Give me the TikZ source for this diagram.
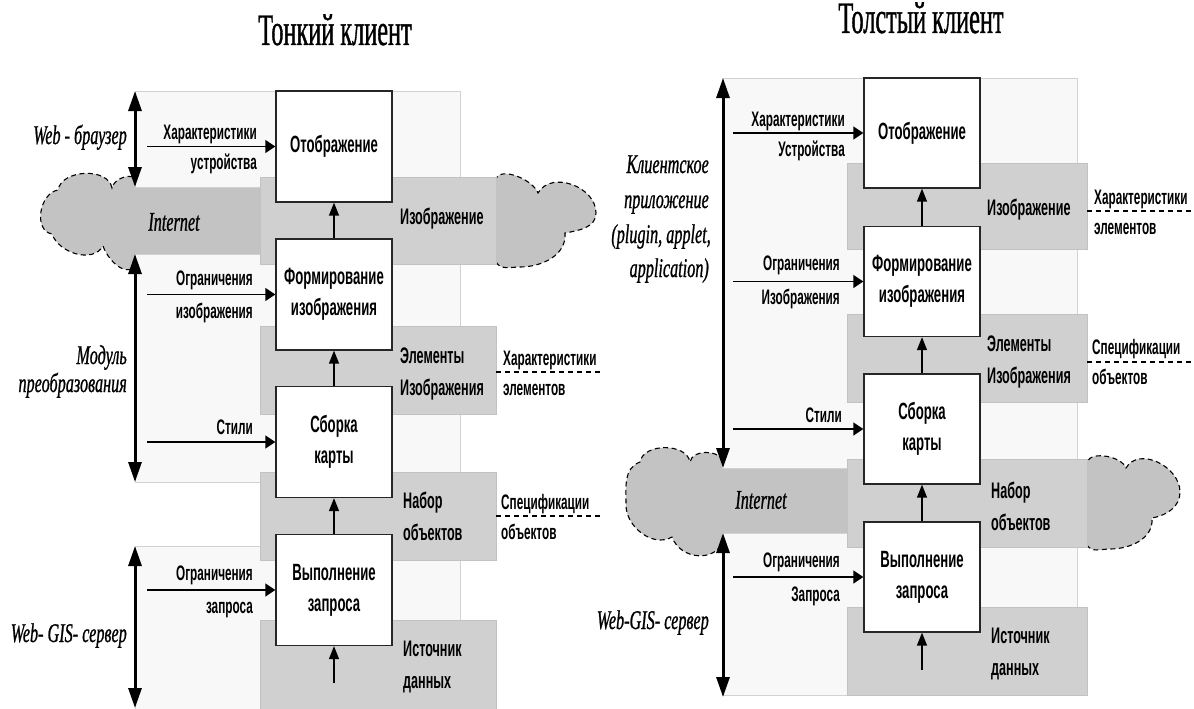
\documentclass[tikz,border=0pt]{standalone}
\usepackage{fontspec}
\usetikzlibrary{arrows.meta}
\newfontfamily\lblfont[FakeStretch=0.56]{Liberation Sans}
\newfontfamily\capfont[FakeStretch=0.6,FakeBold=0.8]{Liberation Serif}
\newfontfamily\ttlfont[FakeStretch=0.54,FakeBold=0.8]{Liberation Serif}
\definecolor{zonelight}{HTML}{F8F8F8}
\definecolor{zoneedge}{HTML}{D2D2D2}
\definecolor{zonegray}{HTML}{D0D0D0}
\definecolor{zonegrayedge}{HTML}{C2C2C2}
\definecolor{netgray}{HTML}{C3C3C3}
\tikzset{
  lightzone/.style={fill=zonelight, draw=zoneedge, line width=0.8pt},
  grayzone/.style={fill=zonegray, draw=zonegrayedge, line width=0.8pt},
  netcloud/.style={fill=netgray, draw=black, dash pattern=on 5pt off 3.5pt, line width=1.1pt},
  procbox/.style={draw=black!85, fill=white, line width=1.3pt, minimum width=116pt,
    minimum height=111pt, inner sep=0pt, align=center,
    font=\lblfont\bfseries\fontsize{23.5pt}{31pt}\selectfont},
  lbl/.style={font=\lblfont\bfseries\fontsize{21pt}{30pt}\selectfont, inner sep=0pt},
  datalbl/.style={font=\lblfont\bfseries\fontsize{22.5pt}{32pt}\selectfont, inner sep=0pt},
  role/.style={font=\capfont\itshape\fontsize{27pt}{28pt}\selectfont, inner sep=0pt},
  ttl/.style={font=\ttlfont\fontsize{45pt}{46pt}\selectfont, inner sep=0pt},
  inarrow/.style={line width=1.4pt, -{Triangle[length=10pt,width=13pt]}},
  flowarrow/.style={line width=1.4pt, -{Triangle[length=13pt,width=10pt]}},
  tierarrow/.style={line width=3pt, {Triangle[length=20pt,width=13pt]}-{Triangle[length=20pt,width=13pt]}},
  specline/.style={line width=1.2pt, dash pattern=on 5pt off 4pt},
}
\begin{document}
\begin{tikzpicture}[x=1pt,y=-1pt]
\fill[white] (0,0) rectangle (1194,709);
\useasboundingbox (0,0) rectangle (1194,709);

% ---------------- thin client ----------------
\node[ttl, anchor=base] (Ltitle) at (335,45) {Тонкий клиент};

% network cloud
\path[netcloud] (137,181) -- (496,179)
  to[out=70,in=110,looseness=0.8] (538,193)
  to[out=60,in=90,looseness=1.1] (596,213)
  to[out=270,in=10] (565,233)
  to[out=275,in=0] (520,267)
  to[out=180,in=300] (496,262)
  -- (137,262)
  to[out=250,in=290,looseness=1.3] (103,246)
  to[out=240,in=290] (52,234)
  to[out=170,in=190,looseness=1.1] (58,190)
  to[out=80,in=100] (112,188)
  to[out=80,in=110] (137,181) -- cycle;

% tier zones
\path[lightzone] (135,91) rectangle (460,187);
\path[lightzone] (135,254) rectangle (460,482);
\path[lightzone] (135,546) rectangle (460,709);
\path[grayzone] (260,177) rectangle (496,264);
\path[grayzone] (260,326) rectangle (496,414);
\path[grayzone] (260,472) rectangle (496,560);
\path[grayzone] (260,620) rectangle (496,709);

\node[role] (Lnet) at (174,222) {Internet};

% processing steps
\node[procbox] (L1) at (334,146.5) {Отображение};
\node[procbox] (L2) at (334,294.5) {Формирование\\изображения};
\node[procbox] (L3) at (334,442) {Сборка\\карты};
\node[procbox] (L4) at (334,590) {Выполнение\\запроса};

\draw[flowarrow] (L2.north) -- (L1.south);
\draw[flowarrow] (L3.north) -- (L2.south);
\draw[flowarrow] (L4.north) -- (L3.south);
\coordinate (Lsrc) at (334,683);
\draw[flowarrow] (Lsrc) -- (L4.south);

% data between steps
\node[datalbl, anchor=west] (Lg1) at (400,219) {Изображение};
\node[datalbl, anchor=west, align=left] (Lg2) at (400,374) {Элементы\\Изображения};
\node[datalbl, anchor=west, align=left] (Lg3) at (403,516) {Набор\\объектов};
\node[datalbl, anchor=west, align=left] (Lg4) at (403,667) {Источник\\данных};

\node[lbl, anchor=west, align=left] (Ls1) at (503,373) {Характеристики\\элементов};
\node[lbl, anchor=west, align=left] (Ls2) at (501,517) {Спецификации\\объектов};
\coordinate (Ld1a) at (496,372); \coordinate (Ld1b) at (600,372);
\coordinate (Ld2a) at (496,516); \coordinate (Ld2b) at (600,516);
\draw[specline] (Ld1a) -- (Ld1b);
\draw[specline] (Ld2a) -- (Ld2b);

% inputs
\coordinate (Lin1) at (147,146.5);
\coordinate (Lin2) at (147,294.5);
\coordinate (Lin3) at (147,442);
\coordinate (Lin4) at (147,590);
\draw[inarrow] (Lin1) -- (L1.west);
\draw[inarrow] (Lin2) -- (L2.west);
\draw[inarrow] (Lin3) -- (L3.west);
\draw[inarrow] (Lin4) -- (L4.west);
\node[lbl, anchor=base east] (Lt1a) at (257,139) {Характеристики};
\node[lbl, anchor=base east] (Lt1b) at (257,169) {устройства};
\node[lbl, anchor=base east] (Lt2a) at (253,285) {Ограничения};
\node[lbl, anchor=base east] (Lt2b) at (253,318) {изображения};
\node[lbl, anchor=base east] (Lt3a) at (253,434) {Стили};
\node[lbl, anchor=base east] (Lt4a) at (253,580) {Ограничения};
\node[lbl, anchor=base east] (Lt4b) at (253,613) {запроса};

% tiers
\coordinate (Lb1t) at (135,91);  \coordinate (Lb1b) at (135,187);
\coordinate (Lb2t) at (135,254); \coordinate (Lb2b) at (135,482);
\coordinate (Lb3t) at (135,546); \coordinate (Lb3b) at (135,708);
\draw[tierarrow] (Lb1t) -- (Lb1b);
\draw[tierarrow] (Lb2t) -- (Lb2b);
\draw[tierarrow] (Lb3t) -- (Lb3b);
\node[role, anchor=base east] (Lr1) at (127,144) {Web - браузер};
\node[role, anchor=base east] (Lr2a) at (127,364) {Модуль};
\node[role, anchor=base east] (Lr2b) at (127,392) {преобразования};
\node[role, anchor=base east] (Lr3) at (127,642) {Web- GIS- сервер};

% ---------------- thick client ----------------
\node[ttl, anchor=base] (Rtitle) at (921,33) {Толстый клиент};

\path[netcloud] (724,462) -- (1087,462)
  to[out=70,in=110,looseness=0.8] (1126,468)
  to[out=60,in=90,looseness=1.1] (1180,492)
  to[out=270,in=10] (1152,518)
  to[out=275,in=0] (1110,549)
  to[out=180,in=300] (1087,545)
  -- (724,540)
  to[out=250,in=290,looseness=1.2] (672,537)
  to[out=210,in=270] (626,505)
  to[out=90,in=200] (640,462)
  to[out=80,in=100] (690,462)
  to[out=80,in=110] (724,462) -- cycle;

\path[lightzone] (722,78) rectangle (1077,468);
\path[lightzone] (722,533) rectangle (1077,695);
\path[grayzone] (847,163) rectangle (1087,249);
\path[grayzone] (847,314) rectangle (1087,402);
\path[grayzone] (847,459) rectangle (1087,547);
\path[grayzone] (847,607) rectangle (1087,695);

\node[role] (Rnet) at (761,500) {Internet};

\node[procbox, minimum height=110pt] (R1) at (922,133) {Отображение};
\node[procbox, minimum height=110pt] (R2) at (922,281.5) {Формирование\\изображения};
\node[procbox, minimum height=110pt] (R3) at (922,429) {Сборка\\карты};
\node[procbox, minimum height=110pt] (R4) at (922,577) {Выполнение\\запроса};

\draw[flowarrow] (R2.north) -- (R1.south);
\draw[flowarrow] (R3.north) -- (R2.south);
\draw[flowarrow] (R4.north) -- (R3.south);
\coordinate (Rsrc) at (922,670);
\draw[flowarrow] (Rsrc) -- (R4.south);

\node[datalbl, anchor=west] (Rg1) at (987,210) {Изображение};
\node[datalbl, anchor=west, align=left] (Rg2) at (987,362) {Элементы\\Изображения};
\node[datalbl, anchor=west, align=left] (Rg3) at (991,506) {Набор\\объектов};
\node[datalbl, anchor=west, align=left] (Rg4) at (991,654) {Источник\\данных};

\node[lbl, anchor=west, align=left] (Rs1) at (1094,212) {Характеристики\\элементов};
\node[lbl, anchor=west, align=left] (Rs2) at (1092,362) {Спецификации\\объектов};
\coordinate (Rd1a) at (1087,211); \coordinate (Rd1b) at (1194,211);
\coordinate (Rd2a) at (1087,362); \coordinate (Rd2b) at (1194,362);
\draw[specline] (Rd1a) -- (Rd1b);
\draw[specline] (Rd2a) -- (Rd2b);

\coordinate (Rin1) at (733,133);
\coordinate (Rin2) at (733,281.5);
\coordinate (Rin3) at (733,429);
\coordinate (Rin4) at (733,577);
\draw[inarrow] (Rin1) -- (R1.west);
\draw[inarrow] (Rin2) -- (R2.west);
\draw[inarrow] (Rin3) -- (R3.west);
\draw[inarrow] (Rin4) -- (R4.west);
\node[lbl, anchor=base east] (Rt1a) at (845,126) {Характеристики};
\node[lbl, anchor=base east] (Rt1b) at (845,156) {Устройства};
\node[lbl, anchor=base east] (Rt2a) at (840,270) {Ограничения};
\node[lbl, anchor=base east] (Rt2b) at (840,304) {Изображения};
\node[lbl, anchor=base east] (Rt3a) at (842,422) {Стили};
\node[lbl, anchor=base east] (Rt4a) at (840,567) {Ограничения};
\node[lbl, anchor=base east] (Rt4b) at (840,601) {Запроса};

\coordinate (Rb1t) at (723,78);  \coordinate (Rb1b) at (723,468);
\coordinate (Rb2t) at (723,533); \coordinate (Rb2b) at (723,697);
\draw[tierarrow] (Rb1t) -- (Rb1b);
\draw[tierarrow] (Rb2t) -- (Rb2b);
\node[role, anchor=base east] (Rr1a) at (709,173) {Клиентское};
\node[role, anchor=base east] (Rr1b) at (709,208) {приложение};
\node[role, anchor=base east] (Rr1c) at (711,243) {(plugin, applet,};
\node[role, anchor=base east] (Rr1d) at (709,277) {application)};
\node[role, anchor=base east] (Rr2) at (709,629) {Web-GIS- сервер};
\end{tikzpicture}
\end{document}
